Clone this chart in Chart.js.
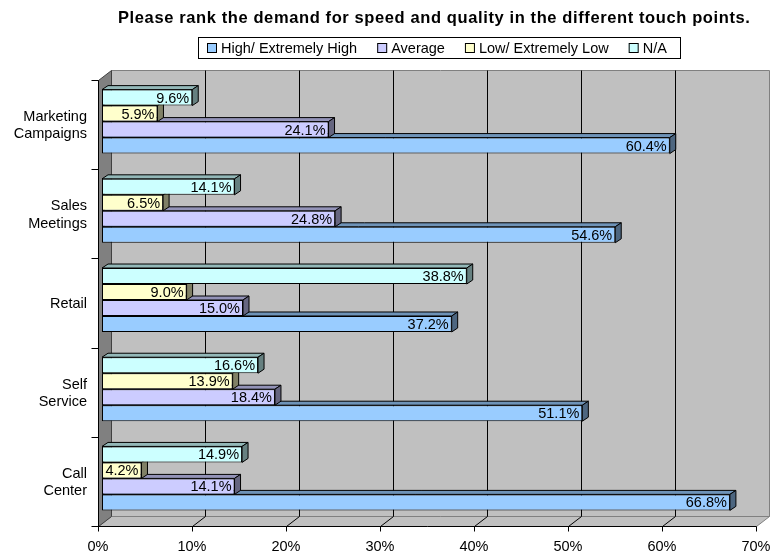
<!DOCTYPE html>
<html>
<head>
<meta charset="utf-8">
<script src="https://cdn.jsdelivr.net/npm/chart.js@4.4.1/dist/chart.umd.min.js"></script>
<style>
body{margin:0;background:#fff}
</style>
</head>
<body>
<canvas id="myChart" width="777" height="554"></canvas>
<script>
// data
let categories = [["Marketing","Campaigns"],["Sales","Meetings"],"Retail",["Self","Service"],["Call","Center"]];
let highVals = [60.4, 54.6, 37.2, 51.1, 66.8];
let avgVals  = [24.1, 24.8, 15.0, 18.4, 14.1];
let lowVals  = [5.9, 6.5, 9.0, 13.9, 4.2];
let naVals   = [9.6, 14.1, 38.8, 16.6, 14.9];
let xTicks = ["0%","10%","20%","30%","40%","50%","60%","70%"];
let legendNames = ["High/ Extremely High","Average","Low/ Extremely Low","N/A"];
let titleText = "Please rank the demand for speed and quality in the different touch points.";

let FONT = "'Liberation Sans', Arial, sans-serif";
Chart.defaults.font.family = FONT;
Chart.defaults.font.size = 14.5;
Chart.defaults.color = "#000";

// 3d offsets (relative to bar plane = chart area)
const DX = 6, DY = 4;     // depth of a bar
const FX = -4, FY = 3;    // front plane
const BX = 9, BY = -7;    // back wall

function shade(hex, k){
  let n = parseInt(hex.slice(1),16);
  let r = Math.round(((n>>16)&255)*k), g = Math.round(((n>>8)&255)*k), b = Math.round((n&255)*k);
  return "rgb("+r+","+g+","+b+")";
}
function poly(ctx, pts, fill, stroke){
  ctx.beginPath();
  ctx.moveTo(pts[0][0], pts[0][1]);
  for (let i=1;i<pts.length;i++) ctx.lineTo(pts[i][0], pts[i][1]);
  ctx.closePath();
  if (fill){ ctx.fillStyle = fill; ctx.fill(); }
  if (stroke){ ctx.strokeStyle = stroke; ctx.lineWidth = 1; ctx.stroke(); }
}
function line(ctx, x1,y1,x2,y2, col){
  ctx.beginPath(); ctx.moveTo(x1,y1); ctx.lineTo(x2,y2);
  ctx.strokeStyle = col; ctx.lineWidth = 1; ctx.stroke();
}

let threeD = {
  id: "threeD",
  beforeDatasetsDraw(chart){
    let ctx = chart.ctx, a = chart.chartArea, x = chart.scales.x;
    let fL=a.left+FX, fR=a.right+FX, fT=a.top+FY, fB=a.bottom+FY;
    let bL=a.left+BX, bR=a.right+BX, bT=a.top+BY, bB=a.bottom+BY;
    ctx.save();
    ctx.translate(0.5,0.5);
    // back wall
    poly(ctx, [[bL,bT],[bR,bT],[bR,bB],[bL,bB]], "#C0C0C0", "#808080");
    // floor
    poly(ctx, [[fL,fB],[bL,bB],[bR,bB],[fR,fB]], "#C0C0C0", "#808080");
    // left wall
    poly(ctx, [[fL,fT],[bL,bT],[bL,bB],[fL,fB]], "#808080", "#404040");
    // gridlines
    for (let v=10; v<70; v+=10){
      let px = Math.round(x.getPixelForValue(v));
      line(ctx, px+BX, bT, px+BX, bB, "#000");
      line(ctx, px+FX, fB, px+BX, bB, "#000");
    }
    // axes
    line(ctx, fL, fT, fL, fB, "#000");
    line(ctx, fL, fB, fR, fB, "#000");
    let step = (a.bottom-a.top)/categories.length;
    for (let k=0;k<=categories.length;k++){
      let py = Math.round(a.top + k*step) + FY;
      line(ctx, fL-7, py, fL, py, "#000");
    }
    for (let v=0; v<=70; v+=10){
      let px = Math.round(x.getPixelForValue(v))+FX;
      line(ctx, px, fB, px, fB+5, "#000");
    }
    ctx.restore();

    // bar depth faces, lower bars first
    let els = [];
    chart.data.datasets.forEach((ds,i)=>{
      chart.getDatasetMeta(i).data.forEach(b=>els.push({b:b, c:ds.backgroundColor}));
    });
    els.sort((p,q)=>q.b.y-p.b.y);
    ctx.save();
    els.forEach(o=>{
      let b=o.b, top=b.y-b.height/2, bot=b.y+b.height/2, x0=b.base, x1=b.x;
      poly(ctx, [[x0,top],[x0+DX,top-DY],[x1+DX,top-DY],[x1,top]], shade(o.c,0.72), "#000");
      poly(ctx, [[x1,top],[x1+DX,top-DY],[x1+DX,bot-DY],[x1,bot]], shade(o.c,0.5), "#000");
    });
    ctx.restore();
  },
  afterDatasetsDraw(chart){
    let ctx = chart.ctx;
    ctx.save();
    ctx.font = "14.5px " + FONT;
    ctx.fillStyle = "#000";
    ctx.textAlign = "right";
    ctx.textBaseline = "middle";
    chart.data.datasets.forEach((ds,i)=>{
      chart.getDatasetMeta(i).data.forEach((b,j)=>{
        ctx.fillText(ds.data[j].toFixed(1)+"%", b.x-3, b.y+1);
      });
    });
    ctx.restore();
  },
  afterDraw(chart){
    let ctx = chart.ctx;
    ctx.save();
    // title, wide bold like the original
    ctx.font = "bold 16.5px " + FONT;
    ctx.fillStyle = "#000";
    ctx.textAlign = "left";
    ctx.textBaseline = "middle";
    let tw = ctx.measureText(titleText).width;
    let sp = Math.max(0, (632 - tw) / (titleText.length - 1));
    ctx.letterSpacing = sp.toFixed(2) + "px";
    ctx.fillText(titleText, 118, 18);
    ctx.letterSpacing = "0px";

    // legend box like the original
    ctx.font = "14.5px " + FONT;
    let items = chart.data.datasets.slice().reverse();
    let widths = items.map(d=>ctx.measureText(d.label).width);
    let total = 0;
    widths.forEach((w,i)=>{ total += 14 + w + (i<widths.length-1 ? 20 : 0); });
    let boxW = total + 9 + 13;
    let left = Math.round(438.5 - boxW/2), top = 37, h = 21;
    ctx.fillStyle = "#fff";
    ctx.fillRect(left, top, boxW, h);
    ctx.strokeStyle = "#000"; ctx.lineWidth = 1;
    ctx.strokeRect(left+0.5, top+0.5, Math.round(boxW), h);
    let cx = left + 9, cy = top + h/2 + 0.5;
    ctx.textBaseline = "middle"; ctx.textAlign = "left";
    items.forEach((d,i)=>{
      ctx.fillStyle = d.backgroundColor;
      ctx.fillRect(cx, Math.round(cy-5), 10, 10);
      ctx.strokeRect(cx+0.5, Math.round(cy-5)+0.5, 9, 9);
      ctx.fillStyle = "#000";
      ctx.fillText(d.label, cx+14, cy+1);
      cx += 14 + widths[i] + 20;
    });
    ctx.restore();
  }
};

new Chart(document.getElementById("myChart"), {
  type: "bar",
  data: {
    labels: categories,
    datasets: [
      { label: legendNames[3], data: naVals,   backgroundColor: "#CCFFFF" },
      { label: legendNames[2], data: lowVals,  backgroundColor: "#FFFFCC" },
      { label: legendNames[1], data: avgVals,  backgroundColor: "#CCCCFF" },
      { label: legendNames[0], data: highVals, backgroundColor: "#99CCFF" }
    ]
  },
  options: {
    indexAxis: "y",
    responsive: false,
    animation: false,
    layout: { padding: { left: 0, right: 17, top: 77, bottom: 0 } },
    datasets: { bar: { categoryPercentage: 0.717, barPercentage: 1, borderWidth: 1, borderColor: "#000", borderSkipped: false } },
    scales: {
      x: {
        min: 0, max: 70,
        grid: { display: false },
        border: { display: false },
        ticks: { stepSize: 10, padding: 7, labelOffset: FX, callback: (v,i)=>xTicks[i] },
        afterFit: s => { s.height = 31; s.paddingLeft = 0; s.paddingRight = 0; }
      },
      y: {
        grid: { display: false },
        border: { display: false },
        ticks: { padding: 7, labelOffset: 4 },
        afterFit: s => { s.width = 102; s.paddingTop = 0; s.paddingBottom = 0; }
      }
    },
    plugins: {
      legend: { display: false },
      tooltip: { enabled: false },
      title: { display: false }
    }
  },
  plugins: [threeD]
});
</script>
</body>
</html>
